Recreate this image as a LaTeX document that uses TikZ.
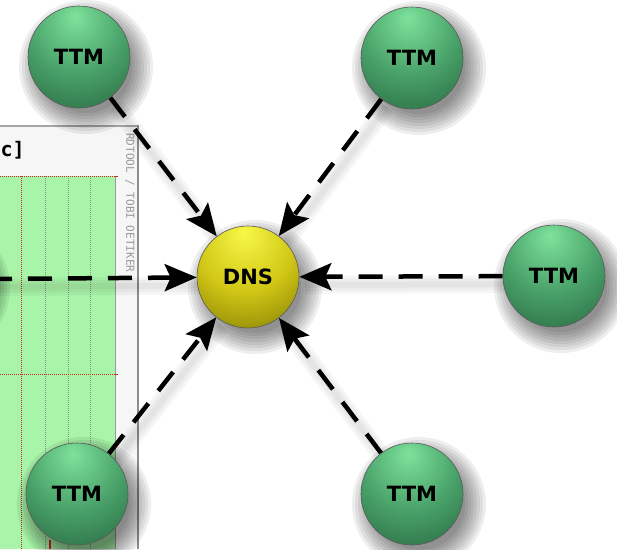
\documentclass[tikz,border=0pt]{standalone}
\usepackage{fontspec}
\setmainfont{DejaVu Sans}
\newfontfamily\monofont{DejaVu Sans Mono}
\usetikzlibrary{arrows.meta,shadings}

\definecolor{ttmhi}{RGB}{125,226,155}
\definecolor{ttmmid}{RGB}{72,160,104}
\definecolor{ttmdark}{RGB}{34,92,56}
\definecolor{dnshi}{RGB}{248,248,70}
\definecolor{dnsmid}{RGB}{208,198,22}
\definecolor{dnsdark}{RGB}{118,112,0}
\definecolor{plotgreen}{RGB}{168,244,168}
\definecolor{gridred}{RGB}{200,40,30}
\definecolor{panelbg}{RGB}{246,246,246}

\pgfdeclareradialshading{ttmball}{\pgfpoint{-2bp}{20bp}}{color(0bp)=(ttmhi); color(24bp)=(ttmmid); color(50bp)=(ttmdark); color(100bp)=(ttmdark)}
\pgfdeclareradialshading{dnsball}{\pgfpoint{-2bp}{22bp}}{color(0bp)=(dnshi); color(24bp)=(dnsmid); color(50bp)=(dnsdark); color(100bp)=(dnsdark)}

\pgfdeclarelayer{panel}
\pgfdeclarelayer{links}
\pgfsetlayers{panel,links,main}

\tikzset{
  sphere/.style={circle, minimum size=102pt, inner sep=0pt, draw=black!65, line width=0.6pt,
    font=\bfseries\fontsize{21}{21}\selectfont, text=black},
  ttm/.style={sphere, shading=ttmball},
  dns/.style={sphere, shading=dnsball},
  conn/.style={line width=4.5pt, dash pattern=on 24pt off 16pt,
    -{Stealth[length=32pt,width=27pt,inset=6pt]}},
  connshadow/.style={line width=#1, black, opacity=0.035, transform canvas={shift={(5,8)}}},
  shadowlayer/.style={black, opacity=0.065},
  reddot/.style={gridred, line width=1pt, dash pattern=on 1pt off 1pt},
  graydot/.style={black!45, line width=1pt, dash pattern=on 1pt off 1pt},
}

\begin{document}
\begin{tikzpicture}[x=1pt,y=-1pt]
\useasboundingbox (0,0) rectangle (617,549);
\clip (0,0) rectangle (617,549);

\begin{pgfonlayer}{panel}
\fill[white] (0,0) rectangle (617,549);
% background graph panel
\fill[panelbg] (0,126) rectangle (138,549);
\fill[plotgreen] (0,176) rectangle (115,549);
\draw[black!40, line width=1pt] (115,176) -- (115,549);
\draw[black!35, line width=1.2pt] (0,126) -- (138,126);
\draw[black!45, line width=2.5pt] (138,125) -- (138,549);
\foreach \x in {45,68,90} \draw[graydot] (\x,176) -- (\x,549);
\draw[reddot] (21,176) -- (21,549);
\draw[reddot] (0,176) -- (115,176);
\draw[reddot] (0,374) -- (115,374);
\draw[gridred, line width=1pt] (115,176) -- (118,176);
\draw[gridred, line width=1pt] (115,374) -- (118,374);
\draw[gridred, line width=2pt] (50,540) -- (50,549);
\node[anchor=base west, inner sep=0pt, font=\monofont\bfseries\fontsize{20}{20}\selectfont] (hdr) at (0.5,156) {c]};
\node[rotate=-90, anchor=west, inner sep=0pt, text=black!40, font=\monofont\fontsize{11}{11}\selectfont] (credit) at (130,133) {RDTOOL / TOBI OETIKER};
\end{pgfonlayer}

\node[ttm] (t1) at (79,57) {TTM};
\node[ttm] (t2) at (412,58) {TTM};
\node[ttm] (t3) at (554,276) {TTM};
\node[ttm] (t4) at (77,494) {TTM};
\node[ttm] (t5) at (412,494) {TTM};
\node[dns] (d) at (248,277) {DNS};
\coordinate (lft) at (-12,279);

\begin{pgfonlayer}{links}
% ball shadows (stacked translucent discs for a soft edge)
\foreach \p in {t1,t2,t3,t4,t5,d}
  \foreach \r in {46,49,...,67}
    \fill[shadowlayer] ([shift={(7,10)}]\p.center) circle (\r pt);
\foreach \r in {46,49,...,67}
  \fill[shadowlayer] (-57,288) circle (\r pt);
% connector shadows
\foreach \s in {t1,t2,t3,t4,t5,lft}
  \foreach \w in {6pt,12pt,18pt}
    \draw[connshadow=\w] (\s) -- (d);
% connectors
\foreach \s in {t1,t2,t3,t4,t5,lft}
  \draw[conn] (\s) -- (d);
\end{pgfonlayer}
\end{tikzpicture}
\end{document}
